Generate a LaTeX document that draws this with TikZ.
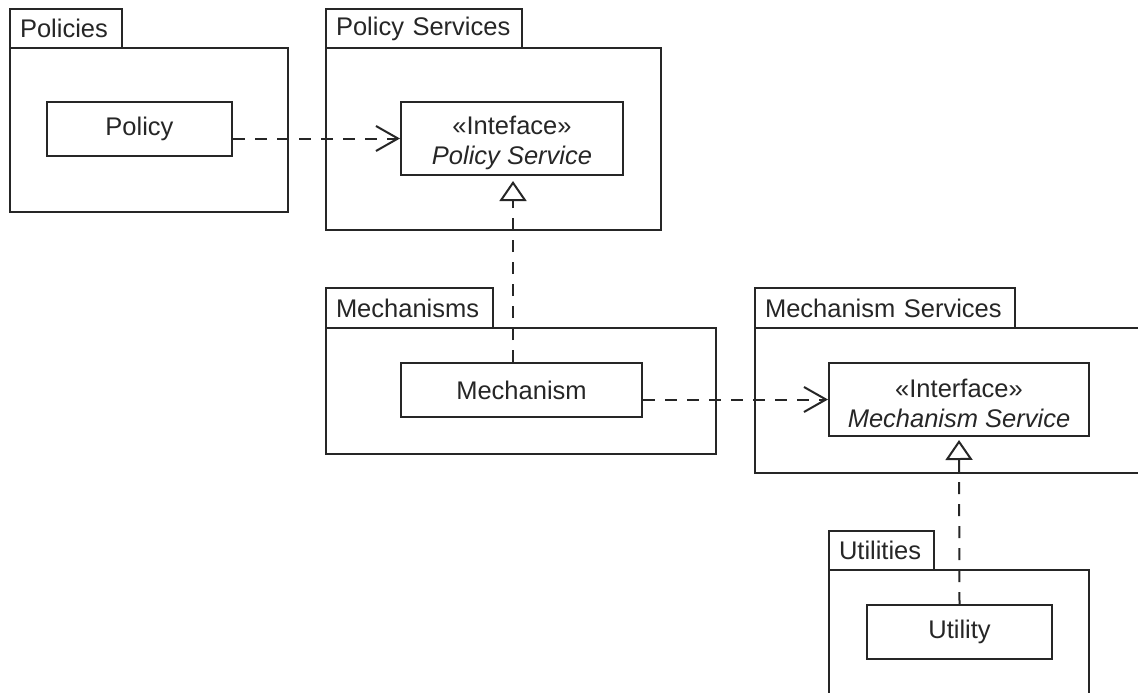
\documentclass[tikz,border=0pt]{standalone}
\usepackage{fontspec}
\setmainfont{Liberation Sans}
\usetikzlibrary{arrows.meta}
\begin{document}
\begin{tikzpicture}[x=1pt,y=-1pt,
  line width=2pt, draw=black!85, text=black!85,
  font=\fontsize{25.5pt}{30pt}\selectfont,
  pkgtab/.style={draw, fill=white, anchor=north west, inner xsep=10pt, inner ysep=0pt, align=left},
  pkgbody/.style={draw, fill=white, anchor=north west, inner sep=0pt},
  cls/.style={draw, fill=white, anchor=north west, inner sep=0pt, align=center},
  clstext/.style={inner sep=0pt, align=center},
  dep/.style={dash pattern=on 12pt off 10pt, -{Straight Barb[length=22pt,width=25pt]}},
  real/.style={dash pattern=on 12pt off 10pt, -{Triangle[length=20pt,width=27pt,fill=white]}}
]
\useasboundingbox (0,0) rectangle (1138,693);
\clip (0,0) rectangle (1138,693);

% Packages
\node[pkgtab, text width=92pt, minimum height=39pt] (tPol) at (9,8) {Policies};
\node[pkgbody, minimum width=278pt, minimum height=164pt] (bPol) at (9,47) {};

\node[pkgtab, text width=176pt, minimum height=39pt] (tPS) at (325,8) {Policy Services};
\node[pkgbody, minimum width=335pt, minimum height=182pt] (bPS) at (325,47) {};

\node[pkgtab, text width=147pt, minimum height=40pt] (tMech) at (325,287) {Mechanisms};
\node[pkgbody, minimum width=390pt, minimum height=126pt] (bMech) at (325,327) {};

\node[pkgtab, text width=240pt, minimum height=40pt] (tMS) at (754,287) {Mechanism Services};
\node[pkgbody, minimum width=420pt, minimum height=145pt] (bMS) at (754,327) {};

\node[pkgtab, text width=85pt, minimum height=39pt] (tUt) at (828,530) {Utilities};
\node[pkgbody, minimum width=260pt, minimum height=150pt] (bUt) at (828,569) {};

% Classes
\node[cls, minimum width=185pt, minimum height=54pt] (pol) at (46,101) {Policy};
\node[cls, minimum width=222pt, minimum height=73pt] (ps) at (400,101) {};
\node[clstext] (psT) at ([yshift=-4pt]ps.center) {«Inteface»\\\textit{Policy Service}};
\node[cls, minimum width=241pt, minimum height=54pt] (mech) at (400,362) {Mechanism};
\node[cls, minimum width=260pt, minimum height=73pt] (ms) at (828,362) {};
\node[clstext] (msT) at ([yshift=-4pt]ms.center) {«Interface»\\\textit{Mechanism Service}};
\node[cls, minimum width=185pt, minimum height=54pt] (ut) at (866,604) {Utility};

% Connectors
\coordinate (r1) at (513,0);
\draw[dep] (pol.east |- ps.west) -- (ps.west);
\draw[real, shorten >=5pt] (mech.north -| r1) -- (ps.south -| r1);
\draw[dep] (mech.east |- ms.west) -- (ms.west);
\draw[real, shorten >=3pt] (ut.north) -- (ms.south);
\end{tikzpicture}
\end{document}
